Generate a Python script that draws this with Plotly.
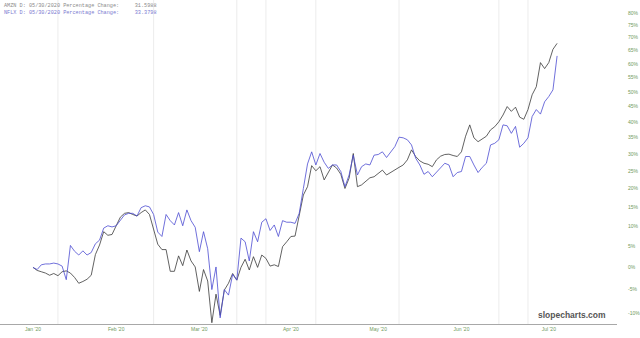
import plotly.graph_objects as go
import pandas as pd

# ---- categories (trading days) ----
holidays = ["2020-01-20", "2020-02-17", "2020-04-10", "2020-05-25", "2020-07-03"]
dates = [d.strftime("%Y-%m-%d") for d in pd.bdate_range("2020-01-09", "2020-07-10")
         if d.strftime("%Y-%m-%d") not in holidays]

# ---- series values: percentage change from first day ----
amzn_pct = [
    0.0, -0.7, -1.0, -1.3, -1.8, -1.4, -1.9, -1.0, -0.8, -1.3,
    -2.3, -3.6, -3.2, -2.7, -1.8, 3.0, 5.3, 8.6, 7.7, 7.9,
    10.1, 12.3, 13.3, 13.5, 13.0, 12.6, 13.5, 14.2, 13.0, 9.3,
    5.5, 4.2, 4.2, -0.9, -0.9, 2.7, 0.4, 4.1, 1.5, 0.1,
    -5.4, -0.5, -3.1, -12.0, -6.0, -10.5, -5.1, -3.6, -1.4, -2.9,
    0.0, 1.9, -0.6, 2.5, 0.0, 2.9, 2.1, 0.3, 0.6, 0.2,
    4.9, 6.1, 7.4, 7.5, 12.4, 18.2, 20.5, 26.5, 25.0, 26.2,
    22.4, 24.6, 26.7, 25.8, 24.0, 20.0, 22.9, 30.1, 20.5, 21.0,
    21.9, 23.0, 23.3, 24.2, 25.2, 23.8, 24.6, 25.2, 26.0, 26.7,
    28.2, 31.2, 29.2, 27.9, 27.2, 26.9, 26.2, 28.2, 29.3, 29.8,
    29.9, 29.5, 29.2, 30.6, 35.4, 39.0, 34.9, 33.7, 34.5, 35.4,
    37.4, 38.4, 40.0, 42.2, 45.0, 43.4, 44.8, 41.5, 40.8, 44.0,
    49.0, 51.8, 60.5, 58.3, 60.5, 65.5, 67.8,
]
nflx_pct = [
    0.0, -0.5, 0.6, 0.8, 0.8, 1.0, 0.8, 0.3, -2.8, 5.2,
    3.8, 2.9, 3.9, 2.9, 3.5, 5.6, 6.5, 9.5, 10.1, 9.8,
    10.1, 11.6, 12.9, 13.3, 13.3, 12.6, 14.8, 15.3, 15.0, 13.0,
    8.5, 7.4, 13.0, 11.4, 10.3, 13.5, 10.1, 14.2, 11.4, 9.7,
    3.7, 8.6, 4.4, -5.0, 0.1, -11.0, -5.0, -6.2, -1.6, -2.9,
    7.0, 6.1, 1.5, 8.6, 6.1, 11.0, 11.9, 8.9, 10.3, 7.4,
    11.4, 11.0, 11.0, 10.7, 13.3, 20.0, 27.0, 30.6, 26.7, 30.1,
    27.5, 25.7, 26.7, 26.7, 24.8, 20.5, 23.8, 29.6, 23.8, 26.2,
    27.0, 26.7, 29.6, 29.8, 30.6, 28.9, 30.6, 32.2, 35.1, 34.9,
    34.3, 32.7, 28.7, 26.7, 24.0, 24.8, 23.3, 24.5, 25.7, 27.2,
    26.7, 23.3, 24.5, 24.8, 29.2, 29.2, 26.7, 24.5, 26.0, 27.2,
    32.7, 33.2, 34.3, 39.0, 38.7, 36.3, 38.5, 32.0, 33.2, 34.9,
    41.7, 44.0, 42.5, 46.6, 48.4, 50.7, 63.0,
]

# ---- tick labels ----
tick_dates = ["2020-01-09", "2020-02-07", "2020-03-09", "2020-04-08",
              "2020-05-08", "2020-06-08", "2020-07-08"]
tick_labels = ["Jan '20", "Feb '20", "Mar '20", "Apr '20", "May '20", "Jun '20", "Jul '20"]
grid_dates = ["2020-01-17", "2020-02-21", "2020-03-20", "2020-03-31",
              "2020-04-17", "2020-05-15", "2020-06-19", "2020-06-30"]
pct_ticks = list(range(-10, 85, 5))

header_lines = [
    ("AMZN D: 05/30/2020 Percentage Change:     31.5988", "#8a8a8a"),
    ("NFLX D: 05/30/2020 Percentage Change:     33.3798", "#7a7ad0"),
]

idx = list(range(len(dates)))

fig = go.Figure()
fig.add_trace(go.Scatter(x=idx, y=[1 + v / 100 for v in amzn_pct], mode="lines",
                         line=dict(color="#3a3a3a", width=0.8), name="AMZN",
                         text=dates, hoverinfo="text+y"))
fig.add_trace(go.Scatter(x=idx, y=[1 + v / 100 for v in nflx_pct], mode="lines",
                         line=dict(color="#4b4bd2", width=0.8), name="NFLX",
                         text=dates, hoverinfo="text+y"))

for d in grid_dates:
    fig.add_shape(type="line", xref="x", yref="paper", x0=dates.index(d), x1=dates.index(d),
                  y0=0, y1=1, line=dict(color="#ececec", width=1), layer="below")

for k, (txt, col) in enumerate(header_lines):
    fig.add_annotation(xref="paper", yref="paper", x=0, y=1, xanchor="left", yanchor="top",
                       yshift=-1 - 7 * k, xshift=2, text=txt, showarrow=False,
                       font=dict(family="Liberation Mono", size=5.2, color=col))

fig.add_annotation(xref="paper", yref="paper", x=0.985, y=0.0, xanchor="right", yanchor="bottom",
                   yshift=2, text="<b>slopecharts.com</b>", showarrow=False,
                   font=dict(family="Liberation Sans", size=8.5, color="#555555"))

fig.update_layout(
    width=640, height=338,
    margin=dict(l=0, r=23, t=0, b=14),
    paper_bgcolor="white", plot_bgcolor="white",
    showlegend=False,
    xaxis=dict(range=[-7.93, 140.4], showgrid=False, zeroline=False,
               tickmode="array", tickvals=[dates.index(d) for d in tick_dates],
               ticktext=tick_labels, ticks="",
               tickfont=dict(family="Liberation Sans", size=5, color="#6f9a5c"),
               showline=True, linecolor="#a8a8a8", linewidth=1),
    yaxis=dict(type="log", range=[-0.0568, 0.2683], side="right", showgrid=False,
               zeroline=False, tickmode="array",
               tickvals=[1 + p / 100 for p in pct_ticks],
               ticktext=[f"{p}%" for p in pct_ticks], ticks="",
               ticklabelstandoff=10,
               tickfont=dict(family="Liberation Sans", size=5, color="#6f9a5c")),
)

fig.write_html("out.html")
